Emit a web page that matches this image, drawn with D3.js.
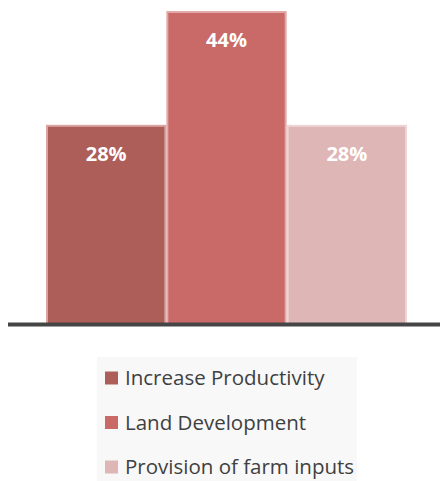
<!DOCTYPE html>
<html>
<head>
<meta charset="utf-8">
<script src="https://cdn.jsdelivr.net/npm/d3@7"></script>
<style>
  body { margin: 0; background: #fff; }
  svg { display: block; font-family: "Open Sans", Lato, sans-serif; }
</style>
</head>
<body>
<div id="chart"></div>
<script>
const categories = ["Increase Productivity", "Land Development", "Provision of farm inputs"];
const values = [28, 44, 28];
const colors = ["#ad5e58", "#c96a68", "#dfb6b6"];
const strokes = ["#d9a4a2", "#e3a9a8", "#eed4d4"];

const W = 440, H = 481;

const svg = d3.select("#chart").append("svg")
  .attr("width", W)
  .attr("height", H);

// bars
const x = d3.scaleBand().domain(categories).range([46, 407]).paddingInner(0).paddingOuter(0);
const y = d3.scaleLinear().domain([0, 44]).range([324, 11]);

svg.selectAll("rect.bar")
  .data(values)
  .enter().append("rect")
  .attr("class", "bar")
  .attr("x", (d, i) => x(categories[i]) + 1)
  .attr("y", d => y(d) + 1)
  .attr("width", x.bandwidth() - 2)
  .attr("height", d => y(0) - y(d) - 1)
  .attr("fill", (d, i) => colors[i])
  .attr("stroke", (d, i) => strokes[i])
  .attr("stroke-width", 2);

svg.selectAll("text.val")
  .data(values)
  .enter().append("text")
  .attr("class", "val")
  .attr("x", (d, i) => x(categories[i]) + x.bandwidth() / 2)
  .attr("y", d => y(d) + 36)
  .attr("text-anchor", "middle")
  .attr("fill", "#fff")
  .attr("font-weight", "bold")
  .attr("font-size", 20)
  .text(d => d + "%");

// baseline
svg.append("line")
  .attr("x1", 8).attr("x2", W)
  .attr("y1", y(0) + 0.5).attr("y2", y(0) + 0.5)
  .attr("stroke", "#454545")
  .attr("stroke-width", 4);

// legend
const legend = svg.append("g");
legend.append("rect")
  .attr("x", 97).attr("y", 357)
  .attr("width", 260).attr("height", 130)
  .attr("fill", "#f8f8f8");

const ly = d3.scalePoint().domain(categories).range([378, 467]);

const item = legend.selectAll("g.item")
  .data(categories)
  .enter().append("g")
  .attr("class", "item")
  .attr("transform", d => "translate(0," + ly(d) + ")");

item.append("rect")
  .attr("x", 105).attr("y", -6.5)
  .attr("width", 13).attr("height", 13)
  .attr("fill", (d, i) => colors[i]);

item.append("text")
  .attr("x", 125)
  .attr("dy", "0.35em")
  .attr("fill", "#404040")
  .attr("font-size", 20.5)
  .text(d => d);
</script>
</body>
</html>
